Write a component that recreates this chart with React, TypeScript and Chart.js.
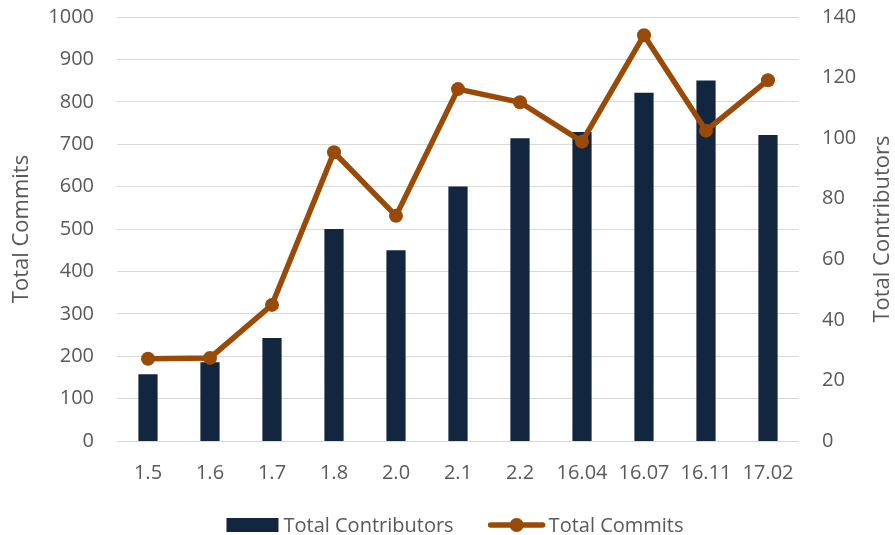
import React, { useEffect, useRef } from "react";
import { Chart, registerables } from "chart.js";

Chart.register(...registerables);

const categories = ["1.5", "1.6", "1.7", "1.8", "2.0", "2.1", "2.2", "16.04", "16.07", "16.11", "17.02"];
const totalContributors = [22, 26, 34, 70, 63, 84, 100, 102, 115, 119, 101];
const totalCommits = [194, 196, 321, 681, 531, 830, 799, 706, 957, 732, 851];
const leftTicks = { min: 0, max: 1000, step: 100 };
const rightTicks = { min: 0, max: 140, step: 20 };

const BAR_COLOR = "#13263F";
const LINE_COLOR = "#9A4A07";
const TEXT_COLOR = "#595959";
const GRID_COLOR = "#D9D9D9";
const FONT_FAMILY = '"Open Sans", sans-serif';

const rightTitlePlugin = {
  id: "rightTitle",
  afterDraw(chart: any) {
    const ctx = chart.ctx;
    const area = chart.chartArea;
    ctx.save();
    ctx.font = `22px ${FONT_FAMILY}`;
    ctx.fillStyle = TEXT_COLOR;
    ctx.textAlign = "center";
    ctx.textBaseline = "middle";
    ctx.translate(area.right + 84, (area.top + area.bottom) / 2);
    ctx.rotate(-Math.PI / 2);
    ctx.fillText("Total Contributors", 0, 0);
    ctx.restore();
  },
};

const legendPlugin = {
  id: "customLegend",
  afterDraw(chart: any) {
    const ctx = chart.ctx;
    const area = chart.chartArea;
    ctx.save();
    ctx.font = `20px ${FONT_FAMILY}`;
    ctx.textBaseline = "middle";
    ctx.textAlign = "left";
    const label1 = "Total Contributors";
    const label2 = "Total Commits";
    const w1 = ctx.measureText(label1).width;
    const w2 = ctx.measureText(label2).width;
    const boxW = 52, boxH = 14, gap1 = 5, gap2 = 35, lineW = 56, gap3 = 4;
    const total = boxW + gap1 + w1 + gap2 + lineW + gap3 + w2;
    const cx = (area.left + area.right) / 2 - 3;
    const cy = 525;
    let x = cx - total / 2;
    ctx.fillStyle = BAR_COLOR;
    ctx.fillRect(x, cy - boxH / 2, boxW, boxH);
    x += boxW + gap1;
    ctx.fillStyle = TEXT_COLOR;
    ctx.fillText(label1, x, cy + 1);
    x += w1 + gap2;
    ctx.strokeStyle = LINE_COLOR;
    ctx.lineWidth = 5.5;
    ctx.lineCap = "round";
    ctx.beginPath();
    ctx.moveTo(x + 2, cy);
    ctx.lineTo(x + lineW - 2, cy);
    ctx.stroke();
    ctx.fillStyle = LINE_COLOR;
    ctx.beginPath();
    ctx.arc(x + lineW / 2, cy, 7, 0, Math.PI * 2);
    ctx.fill();
    x += lineW + gap3;
    ctx.fillStyle = TEXT_COLOR;
    ctx.fillText(label2, x, cy + 1);
    ctx.restore();
  },
};

export default function App() {
  const canvasRef = useRef<HTMLCanvasElement | null>(null);

  useEffect(() => {
    document.body.style.margin = "0";
    const canvas = canvasRef.current;
    if (!canvas) return;
    const chart = new Chart(canvas, {
      type: "bar",
      data: {
        labels: categories,
        datasets: [
          {
            type: "line",
            label: "Total Commits",
            data: totalCommits,
            yAxisID: "y",
            borderColor: LINE_COLOR,
            backgroundColor: LINE_COLOR,
            borderWidth: 5.5,
            pointRadius: 7,
            pointBorderWidth: 0,
            pointBackgroundColor: LINE_COLOR,
            tension: 0,
            order: 0,
          } as any,
          {
            type: "bar",
            label: "Total Contributors",
            data: totalContributors,
            yAxisID: "y1",
            backgroundColor: BAR_COLOR,
            borderWidth: 0,
            categoryPercentage: 1,
            barPercentage: 0.31,
            order: 1,
          },
        ],
      },
      options: {
        responsive: false,
        animation: false,
        layout: { padding: { top: 17, bottom: 0, left: 0, right: 0 } },
        plugins: {
          legend: { display: false },
          tooltip: { enabled: false },
        },
        scales: {
          x: {
            grid: { display: false, drawTicks: false, tickLength: 0 },
            border: { display: false },
            ticks: {
              color: TEXT_COLOR,
              font: { family: FONT_FAMILY, size: 20 },
              padding: 20,
              maxRotation: 0,
              autoSkip: false,
            },
            afterFit: (s: any) => {
              s.height = 94;
              s.paddingLeft = 0;
              s.paddingRight = 0;
            },
          },
          y: {
            position: "left",
            min: leftTicks.min,
            max: leftTicks.max,
            grid: { color: GRID_COLOR, lineWidth: 1, drawTicks: false, tickLength: 0 },
            border: { display: false },
            ticks: {
              stepSize: leftTicks.step,
              color: TEXT_COLOR,
              font: { family: FONT_FAMILY, size: 20 },
              padding: 23,
              callback: (v: any) => String(v),
            },
            title: {
              display: true,
              text: "Total Commits",
              color: TEXT_COLOR,
              font: { family: FONT_FAMILY, size: 22, lineHeight: 1.1 },
              padding: { top: 10, bottom: 0 },
            },
            afterFit: (s: any) => {
              s.width = 117;
              s.paddingTop = 0;
              s.paddingBottom = 0;
            },
          },
          y1: {
            position: "right",
            min: rightTicks.min,
            max: rightTicks.max,
            grid: { display: false, drawTicks: false, tickLength: 0 },
            border: { display: false },
            ticks: {
              stepSize: rightTicks.step,
              color: TEXT_COLOR,
              font: { family: FONT_FAMILY, size: 20 },
              padding: 23,
              callback: (v: any) => String(v),
            },
            title: { display: false },
            afterFit: (s: any) => {
              s.width = 96;
              s.paddingTop = 0;
              s.paddingBottom = 0;
            },
          },
        },
      },
      plugins: [legendPlugin, rightTitlePlugin],
    });
    return () => chart.destroy();
  }, []);

  return (
    <div style={{ width: 895, height: 535, background: "#ffffff" }}>
      <canvas ref={canvasRef} width={895} height={535} style={{ display: "block" }} />
    </div>
  );
}
